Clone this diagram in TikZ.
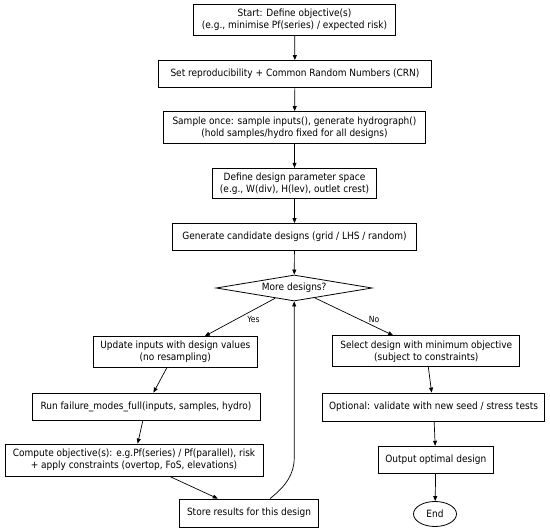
\documentclass[tikz,border=0pt]{standalone}
\usepackage{fontspec}
\setmainfont{DejaVu Sans Condensed}
\usetikzlibrary{shapes.geometric,arrows.meta,calc}
\begin{document}
\begin{tikzpicture}[x=1pt,y=-1pt,
  box/.style={draw,line width=0.8pt,inner sep=0pt,align=center,font=\fontsize{10}{12}\selectfont},
  arr/.style={draw,line width=0.7pt,-{Triangle[length=5pt,width=4pt]}},
  lbl/.style={font=\fontsize{8.5}{10}\selectfont,inner sep=0pt}]
\useasboundingbox (0,0) rectangle (550,532);
\node[box,minimum width=202pt,minimum height=31pt] (start) at (294.5,19.5) {Start: Define objective(s)\\(e.g., minimise Pf(series) / expected risk)};
\node[box,minimum width=273pt,minimum height=27pt] (crn) at (295,74) {Set reproducibility + Common Random Numbers (CRN)};
\node[box,minimum width=262pt,minimum height=32pt] (sample) at (294.5,127.5) {Sample once: sample inputs(), generate hydrograph()\\(hold samples/hydro fixed for all designs)};
\node[box,minimum width=164pt,minimum height=30pt] (space) at (294.5,183.3) {Define design parameter space\\(e.g., W(div), H(lev), outlet crest)};
\node[box,minimum width=244pt,minimum height=27pt] (gen) at (294.5,237) {Generate candidate designs (grid / LHS / random)};
\node[box,shape=diamond,aspect=6,minimum width=156pt,minimum height=26pt] (more) at (294.2,288) {More designs?};
\node[box,minimum width=164pt,minimum height=31pt] (update) at (175.3,352) {Update inputs with design values\\(no resampling)};
\node[box,minimum width=187pt,minimum height=31pt] (select) at (426.3,351.3) {Select design with minimum objective\\(subject to constraints)};
\node[box,minimum width=228pt,minimum height=27pt] (run) at (146,406.5) {Run failure\_modes\_full(inputs, samples, hydro)};
\node[box,minimum width=222pt,minimum height=28pt] (optional) at (433.5,407) {Optional: validate with new seed / stress tests};
\node[box,minimum width=258pt,minimum height=32pt] (compute) at (134,460) {Compute objective(s): e.g.Pf(series) / Pf(parallel), risk\\+ apply constraints (overtop, FoS, elevations)};
\node[box,minimum width=115pt,minimum height=27pt] (output) at (435.8,459.7) {Output optimal design};
\node[box,minimum width=139pt,minimum height=28pt] (store) at (249,513) {Store results for this design};
\node[box,shape=ellipse,minimum width=43pt,minimum height=25pt] (end) at (435,514) {End};
\node[lbl] (yes) at (253.5,319) {Yes};
\node[lbl] (no) at (374,319) {No};
\draw[arr] (start) -- (crn);
\draw[arr] (crn) -- (sample);
\draw[arr] (sample) -- (space);
\draw[arr] (space) -- (gen);
\draw[arr] (gen) -- (more);
\draw[arr] (more) -- (update);
\draw[arr] (more) -- (select);
\draw[arr] (update) -- (run);
\draw[arr] (run) -- (compute);
\draw[arr] (compute) -- (store);
\draw[arr] (select) -- (optional);
\draw[arr] (optional) -- (output);
\draw[arr] (output) -- (end);
\coordinate (s1) at ($(store.north west)!0.65!(store.north east)$);
\coordinate (loopA) at (294.2,458);
\draw[arr] (s1) .. controls (286,486) and (294.2,474) .. (loopA) -- (more.south);
\end{tikzpicture}
\end{document}
